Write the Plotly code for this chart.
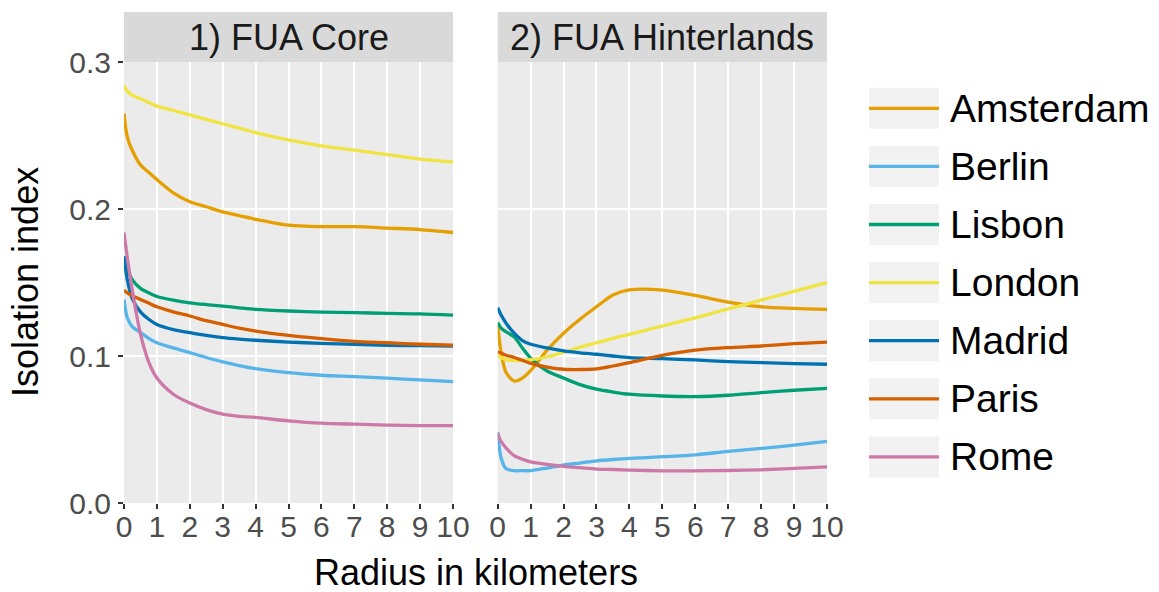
import plotly.graph_objects as go

# ---------------- data ----------------
radius = [0, 0.1, 0.25, 0.5, 0.75, 1, 1.5, 2, 2.5, 3, 3.5, 4, 5, 6, 7, 8, 9, 10]
cities = ["Amsterdam", "Berlin", "Lisbon", "London", "Madrid", "Paris", "Rome"]
colors = ["#E69F00", "#56B4E9", "#009E73", "#F0E442", "#0072B2", "#D55E00", "#CC79A7"]
panels = ["1) FUA Core", "2) FUA Hinterlands"]

core_amsterdam = [0.265, 0.249, 0.240, 0.230, 0.225, 0.220, 0.211, 0.205, 0.2015, 0.198, 0.1955, 0.193, 0.189, 0.188, 0.188, 0.187, 0.186, 0.184]
core_berlin = [0.1385, 0.126, 0.120, 0.116, 0.112, 0.109, 0.1055, 0.1023, 0.099, 0.096, 0.0935, 0.0914, 0.0887, 0.0869, 0.086, 0.0849, 0.0837, 0.0826]
core_lisbon = [0.1645, 0.159, 0.152, 0.146, 0.143, 0.1405, 0.138, 0.1362, 0.135, 0.134, 0.1328, 0.1317, 0.1306, 0.1299, 0.1295, 0.129, 0.1287, 0.1278]
core_london = [0.284, 0.280, 0.2775, 0.275, 0.2725, 0.270, 0.267, 0.264, 0.261, 0.258, 0.255, 0.252, 0.247, 0.243, 0.240, 0.237, 0.234, 0.232]
core_madrid = [0.168, 0.152, 0.139, 0.130, 0.125, 0.1215, 0.118, 0.1159, 0.114, 0.1125, 0.1115, 0.1107, 0.1095, 0.1086, 0.108, 0.1073, 0.107, 0.1068]
core_paris = [0.1446, 0.143, 0.141, 0.1385, 0.136, 0.1335, 0.130, 0.1272, 0.124, 0.1215, 0.119, 0.117, 0.114, 0.1118, 0.110, 0.109, 0.108, 0.1073]
core_rome = [0.184, 0.167, 0.145, 0.115, 0.096, 0.085, 0.074, 0.068, 0.0635, 0.0604, 0.059, 0.0582, 0.0559, 0.0543, 0.0536, 0.053, 0.0527, 0.0527]

hinter_amsterdam = [0.121, 0.103, 0.089, 0.083, 0.085, 0.090, 0.104, 0.1155, 0.125, 0.1335, 0.1415, 0.145, 0.1448, 0.1412, 0.1367, 0.1335, 0.1324, 0.1317]
hinter_berlin = [0.0484, 0.031, 0.0235, 0.022, 0.022, 0.022, 0.0238, 0.0258, 0.0272, 0.0287, 0.0296, 0.0303, 0.0315, 0.0328, 0.0351, 0.0371, 0.0394, 0.0419]
hinter_lisbon = [0.1227, 0.119, 0.1165, 0.113, 0.1055, 0.0985, 0.0898, 0.085, 0.0805, 0.0774, 0.0755, 0.074, 0.0728, 0.0724, 0.0733, 0.0751, 0.0767, 0.078]
hinter_london = [0.1005, 0.099, 0.0975, 0.0968, 0.097, 0.0975, 0.0995, 0.1025, 0.106, 0.109, 0.112, 0.1147, 0.1204, 0.126, 0.132, 0.138, 0.144, 0.150]
hinter_madrid = [0.1329, 0.128, 0.1225, 0.1155, 0.1105, 0.108, 0.1055, 0.1035, 0.1022, 0.1012, 0.100, 0.0989, 0.0982, 0.0973, 0.0962, 0.0955, 0.0948, 0.0944]
hinter_paris = [0.1027, 0.102, 0.1005, 0.099, 0.097, 0.095, 0.0925, 0.091, 0.0908, 0.0912, 0.0932, 0.0955, 0.1005, 0.104, 0.1057, 0.1068, 0.1084, 0.1095]
hinter_rome = [0.0475, 0.042, 0.0375, 0.0322, 0.0298, 0.028, 0.0262, 0.0249, 0.024, 0.0231, 0.0228, 0.0224, 0.0219, 0.0219, 0.0221, 0.0226, 0.0236, 0.0246]

core_series = [core_amsterdam, core_berlin, core_lisbon, core_london, core_madrid, core_paris, core_rome]
hinter_series = [hinter_amsterdam, hinter_berlin, hinter_lisbon, hinter_london, hinter_madrid, hinter_paris, hinter_rome]

x_ticks = list(range(0, 11))
y_ticks = [0.0, 0.1, 0.2, 0.3]
y_ticktext = ["0.0", "0.1", "0.2", "0.3"]

# ---------------- layout geometry (pixels) ----------------
W, H = 1159, 592
L, R, T, B = 124, 332, 62, 89
PW, PH = W - L - R, H - T - B
FONT = "Liberation Sans, Arial, sans-serif"


def px_x(px):
    return (px - L) / PW


def px_y(py):
    return (H - B - py) / PH


fig = go.Figure()
for col, series in enumerate([core_series, hinter_series]):
    xa = "x" if col == 0 else "x2"
    ya = "y" if col == 0 else "y2"
    for name, color, vals in zip(cities, colors, series):
        fig.add_trace(go.Scatter(
            x=radius, y=vals, mode="lines", name=name,
            line=dict(color=color, width=3.3, shape="spline", smoothing=0.8),
            xaxis=xa, yaxis=ya, showlegend=False,
        ))

axis_common = dict(
    showgrid=True, gridcolor="white", gridwidth=1.5, zeroline=False,
    showline=False, ticks="outside", ticklen=5, tickwidth=1.5, tickcolor="#333333",
    tickfont=dict(family=FONT, size=30, color="#4d4d4d"),
)

d1 = [0, 329 / PW]
d2 = [373.7 / PW, 1]
fig.update_layout(
    width=W, height=H,
    margin=dict(l=L, r=R, t=T, b=B, pad=0),
    paper_bgcolor="white", plot_bgcolor="#ebebeb",
    font=dict(family=FONT),
    showlegend=False,
    xaxis=dict(domain=d1, range=[0, 10], tickvals=x_ticks, ticktext=[str(v) for v in x_ticks],
               ticklabelstandoff=-8, **axis_common),
    xaxis2=dict(domain=d2, range=[0, 10], tickvals=x_ticks, ticktext=[str(v) for v in x_ticks],
                ticklabelstandoff=-8, **axis_common),
    yaxis=dict(range=[0, 0.3], tickvals=y_ticks, ticktext=y_ticktext, ticklabelstandoff=1,
               anchor="x", **axis_common),
    yaxis2=dict(range=[0, 0.3], tickvals=y_ticks, showticklabels=False, anchor="x2",
                showgrid=True, gridcolor="white", gridwidth=1.5, zeroline=False, ticks=""),
)

# facet strips
strip_h = 50 / PH
for i, (lab, xr) in enumerate(zip(panels, ["x domain", "x2 domain"])):
    fig.add_shape(type="rect", xref=xr, yref="paper", x0=0, x1=1, y0=1, y1=1 + strip_h,
                  fillcolor="#d9d9d9", line_width=0)
    fig.add_annotation(text=lab, xref=xr, yref="paper", x=0.5, y=1 + strip_h / 2,
                       showarrow=False, xanchor="center", yanchor="middle",
                       font=dict(family=FONT, size=36, color="#1a1a1a"))

# axis titles
fig.add_annotation(text="Radius in kilometers", xref="paper", yref="paper",
                   x=px_x(475.5), y=px_y(572), showarrow=False,
                   xanchor="center", yanchor="middle",
                   font=dict(family=FONT, size=36, color="black"))
fig.add_annotation(text="Isolation index", xref="paper", yref="paper",
                   x=px_x(25), y=px_y(282), showarrow=False, textangle=-90,
                   xanchor="center", yanchor="middle",
                   font=dict(family=FONT, size=36, color="black"))

# legend (drawn manually to mimic ggplot keys)
key_x0, key_x1 = 869, 939
row0, row_gap, key_h = 108.3, 58.1, 41
for i, (name, color) in enumerate(zip(cities, colors)):
    cy = row0 + i * row_gap
    fig.add_shape(type="rect", xref="paper", yref="paper",
                  x0=px_x(key_x0), x1=px_x(key_x1),
                  y0=px_y(cy + key_h / 2), y1=px_y(cy - key_h / 2),
                  fillcolor="#f2f2f2", line_width=0)
    fig.add_shape(type="line", xref="paper", yref="paper",
                  x0=px_x(key_x0), x1=px_x(key_x1), y0=px_y(cy), y1=px_y(cy),
                  line=dict(color=color, width=3.3))
    fig.add_annotation(text=name, xref="paper", yref="paper",
                       x=px_x(948), y=px_y(cy), showarrow=False,
                       xanchor="left", yanchor="middle",
                       font=dict(family=FONT, size=39, color="black"))

fig.write_html("out.html", config={"displayModeBar": False},
               post_script="document.body.style.margin='0';document.body.style.overflow='hidden';")
